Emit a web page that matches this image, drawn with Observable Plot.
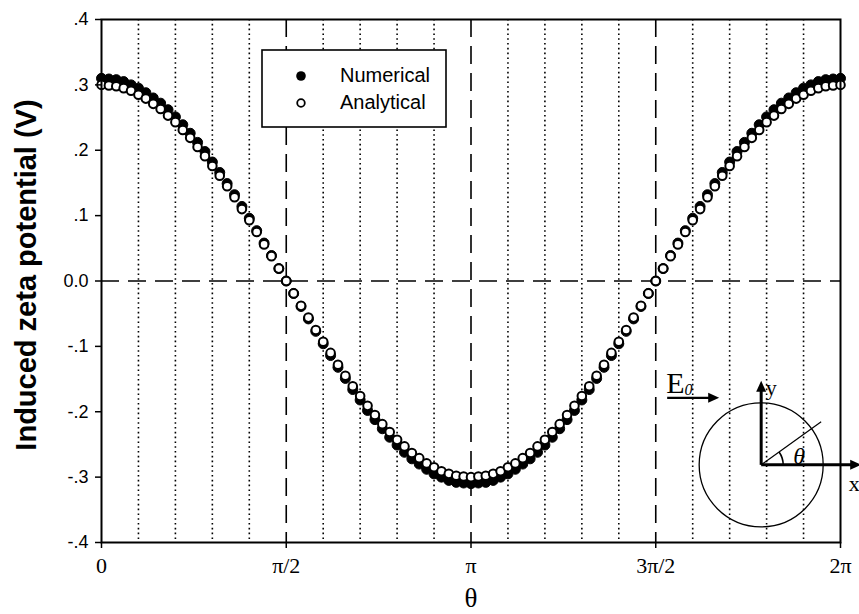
<!DOCTYPE html>
<html>
<head>
<meta charset="utf-8">
<script src="https://cdn.jsdelivr.net/npm/d3@7"></script>
<script src="https://cdn.jsdelivr.net/npm/@observablehq/plot@0.6"></script>
<style>
  body { margin: 0; background: #fff; }
  #chart svg { display: block; }
</style>
</head>
<body>
<div id="chart"></div>
<script>
// Angular positions around the cylinder surface, in degrees (0 .. 360, 100 steps of 3.6°)
const thetaDeg = [0,3.6,7.2,10.8,14.4,18,21.6,25.2,28.8,32.4,36,39.6,43.2,46.8,50.4,54,57.6,61.2,64.8,68.4,72,75.6,79.2,82.8,86.4,
  90,93.6,97.2,100.8,104.4,108,111.6,115.2,118.8,122.4,126,129.6,133.2,136.8,140.4,144,147.6,151.2,154.8,158.4,162,165.6,169.2,172.8,176.4,
  180,183.6,187.2,190.8,194.4,198,201.6,205.2,208.8,212.4,216,219.6,223.2,226.8,230.4,234,237.6,241.2,244.8,248.4,252,255.6,259.2,262.8,266.4,
  270,273.6,277.2,280.8,284.4,288,291.6,295.2,298.8,302.4,306,309.6,313.2,316.8,320.4,324,327.6,331.2,334.8,338.4,342,345.6,349.2,352.8,356.4,360];

// Induced zeta potential (V), numerical solution
const numerical = [.310,.309,.308,.305,.300,.295,.288,.280,.272,.262,.251,.239,.226,.212,.198,.182,.166,.149,.132,.114,.096,.077,.058,.039,.019,
  .000,-.019,-.039,-.058,-.077,-.096,-.114,-.132,-.149,-.166,-.182,-.198,-.212,-.226,-.239,-.251,-.262,-.272,-.280,-.288,-.295,-.300,-.305,-.308,-.309,
  -.310,-.309,-.308,-.305,-.300,-.295,-.288,-.280,-.272,-.262,-.251,-.239,-.226,-.212,-.198,-.182,-.166,-.149,-.132,-.114,-.096,-.077,-.058,-.039,-.019,
  .000,.019,.039,.058,.077,.096,.114,.132,.149,.166,.182,.198,.212,.226,.239,.251,.262,.272,.280,.288,.295,.300,.305,.308,.309,.310];

// Induced zeta potential (V), analytical solution
const analytical = [.300,.299,.298,.295,.291,.285,.279,.271,.263,.253,.243,.231,.219,.205,.191,.176,.161,.145,.128,.110,.093,.075,.056,.038,.019,
  .000,-.019,-.038,-.056,-.075,-.093,-.110,-.128,-.145,-.161,-.176,-.191,-.205,-.219,-.231,-.243,-.253,-.263,-.271,-.279,-.285,-.291,-.295,-.298,-.299,
  -.300,-.299,-.298,-.295,-.291,-.285,-.279,-.271,-.263,-.253,-.243,-.231,-.219,-.205,-.191,-.176,-.161,-.145,-.128,-.110,-.093,-.075,-.056,-.038,-.019,
  .000,.019,.038,.056,.075,.093,.110,.128,.145,.161,.176,.191,.205,.219,.231,.243,.253,.263,.271,.279,.285,.291,.295,.298,.299,.300];

// Axis ticks and labels
const xTicks = [0, 90, 180, 270, 360];
const xTickLabels = ["0", "π/2", "π", "3π/2", "2π"];
const yTicks = [-.4, -.3, -.2, -.1, 0, .1, .2, .3, .4];
const yTickLabels = ["-.4", "-.3", "-.2", "-.1", "0.0", ".1", ".2", ".3", ".4"];

// Reference lines
const dottedDeg = [18,36,54,72,108,126,144,162,198,216,234,252,288,306,324,342];
const dashedDeg = [90, 180, 270];

const numRows = thetaDeg.map((t, i) => ({theta: t, zeta: numerical[i]}));
const anaRows = thetaDeg.map((t, i) => ({theta: t, zeta: analytical[i]}));

const sans = "'Liberation Sans', Arial, sans-serif";
const serif = "'Liberation Serif', 'Times New Roman', serif";

const plot = Plot.plot({
  width: 859,
  height: 614,
  marginLeft: 101,
  marginRight: 19,
  marginTop: 19,
  marginBottom: 72,
  style: {background: "#fff", color: "#000", fontFamily: sans},
  x: {domain: [0, 360]},
  y: {domain: [-0.4, 0.4]},
  marks: [
    Plot.ruleX(dottedDeg, {stroke: "#000", strokeWidth: 1.6, strokeDasharray: "1.6,3.2"}),
    Plot.ruleX(dashedDeg, {stroke: "#000", strokeWidth: 1.6, strokeDasharray: "18,9"}),
    Plot.ruleY([0], {stroke: "#000", strokeWidth: 1.6, strokeDasharray: "18,9"}),
    Plot.dot(numRows, {x: "theta", y: "zeta", r: 5, fill: "#000", stroke: "#000", strokeWidth: 1}),
    Plot.dot(anaRows, {x: "theta", y: "zeta", r: 4.3, fill: "#fff", stroke: "#000", strokeWidth: 2}),
    Plot.frame({stroke: "#000", strokeWidth: 2}),
    Plot.axisX({
      ticks: xTicks,
      tickFormat: d => xTickLabels[xTicks.indexOf(d)],
      tickSize: 6, tickPadding: 9, strokeWidth: 1.5,
      fontFamily: serif, fontSize: 22, label: null
    }),
    Plot.axisY({
      ticks: yTicks,
      tickFormat: d => yTickLabels[yTicks.findIndex(v => Math.abs(v - d) < 1e-9)],
      tickSize: 6, tickPadding: 7, strokeWidth: 1.5,
      fontFamily: sans, fontSize: 18, label: null
    }),
    Plot.text(["Induced zeta potential (V)"], {
      frameAnchor: "left", textAnchor: "middle", rotate: -90, dx: -75, dy: -6,
      fontFamily: sans, fontSize: 29, fontWeight: "bold", fill: "#000"
    }),
    Plot.text(["θ"], {
      frameAnchor: "bottom", dy: 64,
      fontFamily: serif, fontSize: 27, fill: "#000"
    })
  ]
});

document.getElementById("chart").append(plot);

const svg = d3.select(plot);
const xs = plot.scale("x");
const ys = plot.scale("y");

// Legend box
const lg = svg.append("g").attr("text-anchor", "start");
lg.append("rect").attr("x", 262).attr("y", 50).attr("width", 184).attr("height", 77)
  .attr("fill", "#fff").attr("stroke", "#000").attr("stroke-width", 1.6);
lg.append("circle").attr("cx", 301).attr("cy", 76).attr("r", 4.8).attr("fill", "#000");
lg.append("circle").attr("cx", 301).attr("cy", 103).attr("r", 3.8).attr("fill", "#fff")
  .attr("stroke", "#000").attr("stroke-width", 1.8);
lg.append("text").attr("x", 340).attr("y", 77).attr("dominant-baseline", "middle")
  .attr("font-family", sans).attr("font-size", 20).text("Numerical");
lg.append("text").attr("x", 340).attr("y", 104).attr("dominant-baseline", "middle")
  .attr("font-family", sans).attr("font-size", 20).text("Analytical");

// Inset sketch: cylinder in a uniform field E0, with the angle θ measured from x
const cx = xs.apply(321.6), cy = ys.apply(-0.282);
const g = svg.append("g").attr("fill", "none").attr("stroke", "#000");
function arrowHead(x, y, dir) {
  // dir: unit vector of the arrow direction
  const L = 11, W = 5;
  const [ux, uy] = dir, px = -uy, py = ux;
  g.append("path")
    .attr("d", `M${x},${y}L${x - ux * L + px * W},${y - uy * L + py * W}L${x - ux * L - px * W},${y - uy * L - py * W}Z`)
    .attr("fill", "#000").attr("stroke", "none");
}
g.append("circle").attr("cx", cx).attr("cy", cy).attr("r", 62).attr("stroke-width", 1.3);
g.append("line").attr("x1", cx).attr("y1", cy).attr("x2", cx + 92).attr("y2", cy).attr("stroke-width", 3);
arrowHead(cx + 100, cy, [1, 0]);
g.append("line").attr("x1", cx).attr("y1", cy).attr("x2", cx).attr("y2", cy - 76).attr("stroke-width", 3);
arrowHead(cx, cy - 84, [0, -1]);
g.append("line").attr("x1", cx).attr("y1", cy).attr("x2", cx + 60).attr("y2", cy - 43).attr("stroke-width", 1.2);
g.append("path").attr("d", d3.arc()({innerRadius: 22, outerRadius: 22, startAngle: Math.PI / 2 - 0.62, endAngle: Math.PI / 2}))
  .attr("transform", `translate(${cx},${cy})`).attr("stroke-width", 1.6);
g.append("line").attr("x1", cx - 94).attr("y1", cy - 67).attr("x2", cx - 52).attr("y2", cy - 67).attr("stroke-width", 2.2);
arrowHead(cx - 42, cy - 67, [1, 0]);

const tg = svg.append("g").attr("font-family", serif).attr("fill", "#000");
tg.append("text").attr("x", cx + 38).attr("y", cy - 1).attr("font-size", 24).attr("font-style", "italic")
  .attr("text-anchor", "middle").text("θ");
tg.append("text").attr("x", cx + 93).attr("y", cy + 26).attr("font-size", 22).attr("text-anchor", "middle").text("x");
tg.append("text").attr("x", cx + 10).attr("y", cy - 70).attr("font-size", 22).attr("text-anchor", "middle").text("y");
const e = tg.append("text").attr("x", cx - 95).attr("y", cy - 72).attr("font-size", 30).attr("text-anchor", "start");
e.append("tspan").text("E");
e.append("tspan").attr("font-size", 16).attr("font-style", "italic").attr("dy", 2).text("0");
</script>
</body>
</html>
